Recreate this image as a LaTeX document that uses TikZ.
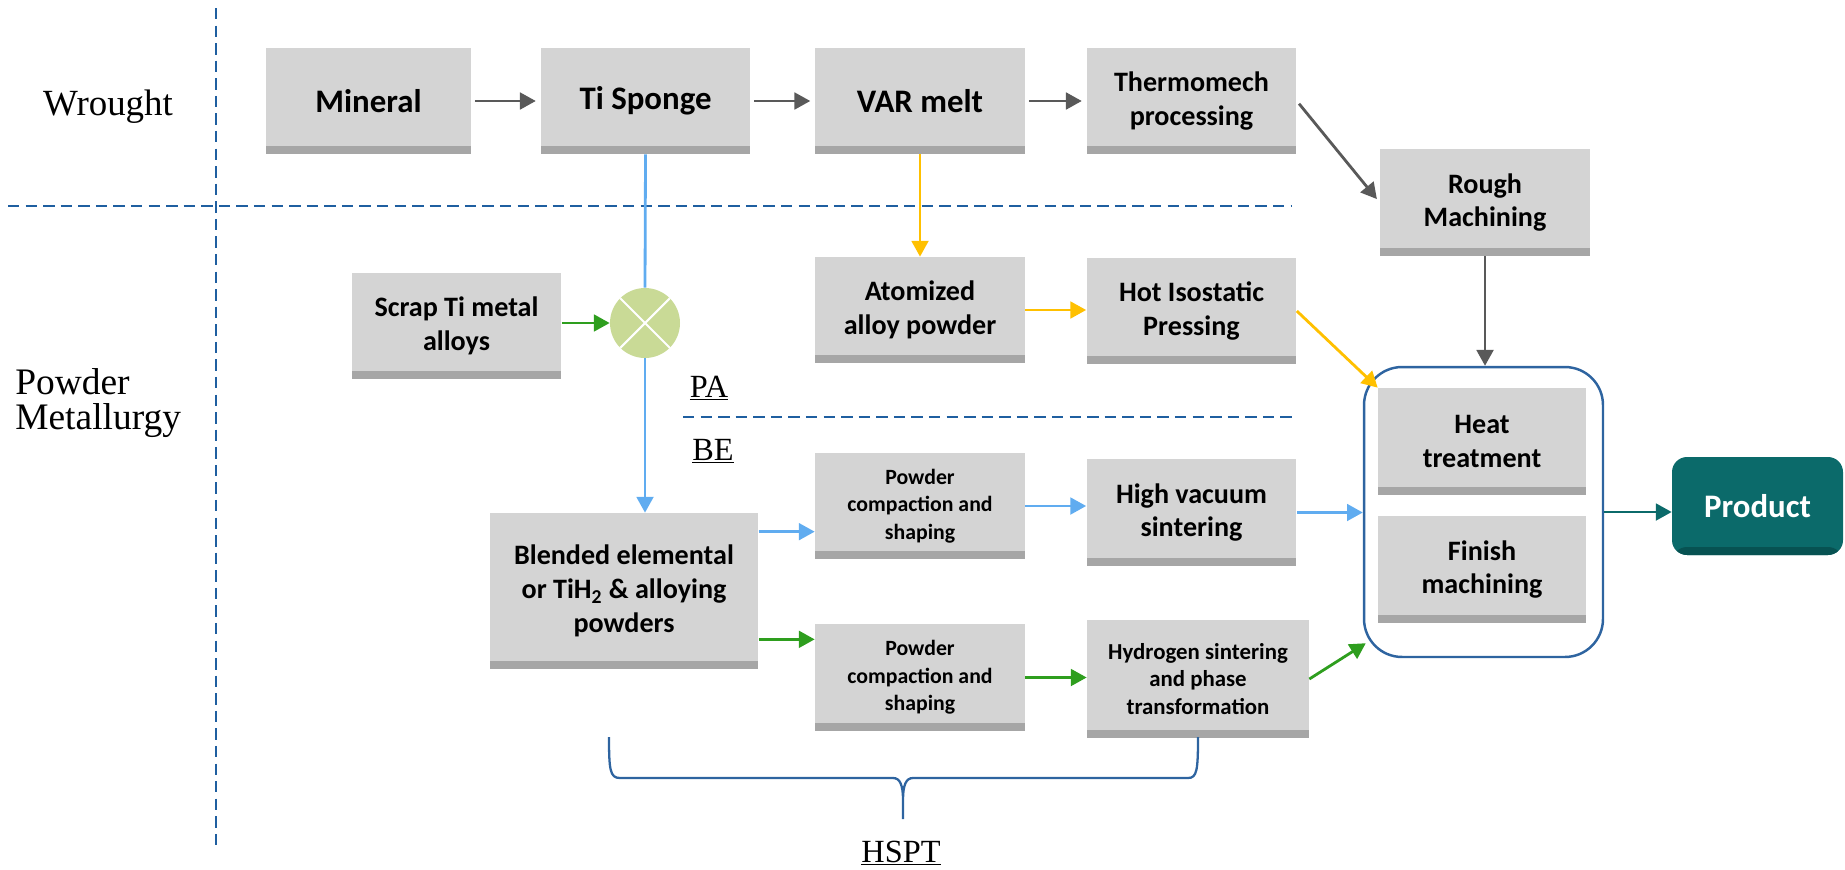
\documentclass[tikz,border=0pt]{standalone}
\usepackage{fontspec}
\setmainfont{Liberation Serif}
\setsansfont{Carlito}
\usetikzlibrary{arrows.meta}

\definecolor{boxgray}{RGB}{212,212,212}
\definecolor{bandgray}{RGB}{166,166,166}
\definecolor{flowgray}{RGB}{89,89,89}
\definecolor{flowyellow}{RGB}{255,192,0}
\definecolor{flowblue}{RGB}{96,172,240}
\definecolor{flowgreen}{RGB}{46,158,30}
\definecolor{flowteal}{RGB}{11,106,106}
\definecolor{tealdark}{RGB}{7,82,82}
\definecolor{mixgreen}{RGB}{201,218,150}
\definecolor{dashblue}{RGB}{31,95,160}
\definecolor{groupblue}{RGB}{46,100,160}

\tikzset{
    stepbox/.style = {rectangle, fill = boxgray, inner sep = 0pt, align = center,
        minimum width = 4.2cm, minimum height = 2.12cm,
        font = \sffamily\bfseries\fontsize{16}{19.3}\selectfont,
        path picture = {\fill [bandgray] (path picture bounding box.south west)
            rectangle ([yshift = 0.16cm] path picture bounding box.south east);}},
    bigtext/.style = {font = \sffamily\bfseries\fontsize{18.7}{22}\selectfont},
    smalltext/.style = {font = \sffamily\bfseries\fontsize{12.4}{15.6}\selectfont},
    flow/.style = {line width = 1.6pt, -{Triangle[length = 9pt, width = 9.5pt]}},
    grayflow/.style = {flow, draw = flowgray, fill = flowgray, shorten <=2pt, shorten >=2.5pt},
    yellowflow/.style = {flow, draw = flowyellow, fill = flowyellow},
    blueflow/.style = {flow, draw = flowblue, fill = flowblue},
    greenflow/.style = {flow, draw = flowgreen, fill = flowgreen},
    tealflow/.style = {flow, draw = flowteal, fill = flowteal},
    region/.style = {draw = dashblue, line width = 1.6pt, dash pattern = on 6.5pt off 3.5pt},
    label/.style = {inner sep = 0pt, font = \fontsize{18.4}{20}\selectfont},
}

\begin{document}
\begin{tikzpicture}[x = 0.02cm, y = -0.02cm]

        \useasboundingbox (0, 0) rectangle (1845, 869);

        % Regions
        \draw [region] (216, 8) -- (216, 845);
        \draw [region] (8, 206) -- (1292, 206);
        \draw [region] (683, 417) -- (1292, 417);

        \node (wrought) [anchor = base, inner sep = 0pt, font = \fontsize{21}{21}\selectfont] at (108, 115) {Wrought};
        \node (pm) [anchor = west, align = left, inner sep = 0pt, font = \fontsize{21.3}{19.8}\selectfont] at (15, 403) {Powder\\Metallurgy};
        \node (pa) [label, anchor = base] at (709, 397) {\underline{PA}};
        \node (be) [label, anchor = base] at (713, 460) {\underline{BE}};
        \node (hspt) [label, anchor = base] at (901, 862) {\underline{HSPT}};

        % Wrought route
        \node (mineral) [stepbox, bigtext, minimum width = 4.1cm] at (368.5, 101) {Mineral};
        \node (sponge) [stepbox, bigtext] at (645.5, 101) {Ti Sponge};
        \node (varmelt) [stepbox, bigtext] at (920, 101) {VAR melt};
        \node (thermo) [stepbox] at (1191.5, 101) {Thermomech\\processing};
        \node (rough) [stepbox, minimum height = 2.14cm] at (1485, 202.5) {Rough\\Machining};

        %% Arrows
        \draw [grayflow] (mineral) -- (sponge);
        \draw [grayflow] (sponge) -- (varmelt);
        \draw [grayflow] (varmelt) -- (thermo);
        \draw [grayflow] (thermo.east) -- (rough.west);

        % Prealloyed route
        \node (atomized) [stepbox] at (920, 310) {Atomized\\alloy powder};
        \node (hip) [stepbox] at (1191.5, 311) {Hot Isostatic\\Pressing};

        % Blended elemental route
        \node (scrap) [stepbox] at (456.5, 326) {Scrap Ti metal\\alloys};
        \node (mix) [circle, fill = mixgreen, minimum size = 1.4cm, inner sep = 0pt,
            path picture = {\draw [white, line width = 1.2pt]
                (path picture bounding box.north west) -- (path picture bounding box.south east)
                (path picture bounding box.north east) -- (path picture bounding box.south west);}] at (645, 323) {};
        \node (blended) [stepbox, minimum width = 5.37cm, minimum height = 3.12cm] at (624, 591)
            {Blended elemental\\or TiH\textsubscript{2} \& alloying\\powders};
        \node (compA) [stepbox, smalltext, minimum height = 2.13cm] at (920, 506) {Powder\\compaction and\\shaping};
        \node (compB) [stepbox, smalltext, minimum height = 2.14cm] at (920, 677.5) {Powder\\compaction and\\shaping};
        \node (hvs) [stepbox, minimum height = 2.14cm] at (1191.5, 512.5) {High vacuum\\sintering};
        \node (hyd) [stepbox, minimum width = 4.44cm, minimum height = 2.36cm,
            font = \sffamily\bfseries\fontsize{13}{15.6}\selectfont] at (1198, 679)
            {Hydrogen sintering\\and phase\\transformation};

        % Finishing
        \node (group) [draw = groupblue, line width = 1.4pt, rounded corners = 0.76cm,
            minimum width = 4.78cm, minimum height = 5.8cm] at (1483.5, 512) {};
        \node (heat) [stepbox, minimum width = 4.16cm, minimum height = 2.14cm] at (1482, 441.5) {Heat\\treatment};
        \node (finish) [stepbox, minimum width = 4.16cm, minimum height = 2.14cm] at (1482, 569.5) {Finish\\machining};
        \node (product) [rectangle, rounded corners = 0.3cm, fill = flowteal, text = white, bigtext,
            minimum width = 3.42cm, minimum height = 1.96cm,
            path picture = {\fill [tealdark] ([yshift = 0.16cm] path picture bounding box.south west)
                rectangle (path picture bounding box.south east);}] at (1757.5, 506) {Product};

        \coordinate (ba) at ([yshift = -0.38cm] blended.north east);
        \coordinate (bb) at ([yshift = 0.6cm] blended.south east);
        \coordinate (gb) at ([xshift = 0.06cm, yshift = 0.3cm] group.south west);

        %% Arrows
        \draw [line width = 1.6pt, flowblue] (sponge.south) -- (mix.north);
        \draw [blueflow] (mix.south) -- (mix.south |- blended.north);
        \draw [greenflow] (scrap.east |- mix.west) -- (mix.west);
        \draw [yellowflow] (varmelt.south) -- (atomized.north);
        \draw [yellowflow] (atomized.east) -- (atomized.east -| hip.west);
        \draw [yellowflow] (hip.east) -- (heat.north west);
        \draw [blueflow] (ba) -- (ba -| compA.west);
        \draw [blueflow] (compA.east) -- (compA.east -| hvs.west);
        \draw [blueflow] (hvs.east) -- (hvs.east -| group.west);
        \draw [greenflow] (bb) -- (bb -| compB.west);
        \draw [greenflow] (compB.east) -- (compB.east -| hyd.west);
        \draw [greenflow] (hyd.east) -- (gb);
        \draw [grayflow, shorten <=0pt, shorten >=0pt] (rough.south) -- (rough.south |- group.north);
        \draw [tealflow] (group.east) -- (group.east -| product.west);

        % HSPT brace
        \draw [groupblue, line width = 1.3pt] (609, 737) .. controls (609, 770) and (610, 778) .. (620, 778)
            -- (893, 778) .. controls (900, 778) and (903, 785) .. (903, 800) -- (903, 819)
            (903, 800) .. controls (903, 785) and (906, 778) .. (913, 778)
            -- (1188, 778) .. controls (1197, 778) and (1198, 770) .. (1198, 737);

    \end{tikzpicture}
\end{document}
